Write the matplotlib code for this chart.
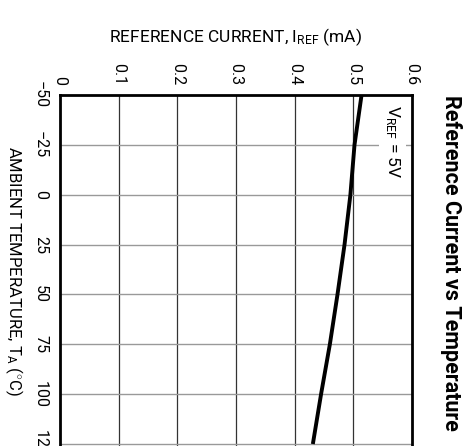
import matplotlib
matplotlib.use("Agg")
import matplotlib.pyplot as plt

temps = [-50, -25, 0, 25, 50, 75, 100, 125]
iref = [0.514, 0.502, 0.495, 0.485, 0.473, 0.460, 0.445, 0.431]
cur_ticks = [0, 0.1, 0.2, 0.3, 0.4, 0.5, 0.6]
cur_labels = ["0", "0.1", "0.2", "0.3", "0.4", "0.5", "0.6"]
temp_ticks = [-50, -25, 0, 25, 50, 75, 100, 125]
temp_labels = ["\u221250", "\u221225", "0", "25", "50", "75", "100", "125"]

FONT = ["Roboto", "DejaVu Sans"]
plt.rcParams["font.family"] = FONT
plt.rcParams["mathtext.fontset"] = "custom"
plt.rcParams["mathtext.rm"] = "Roboto"
plt.rcParams["mathtext.it"] = "Roboto"

W, H = 473, 446
fig = plt.figure(figsize=(W / 100, H / 100), dpi=100)
left, right, top, bottom = 60, 412, 95, 446
ax = fig.add_axes([left / W, 1 - bottom / H, (right - left) / W, (bottom - top) / H])

ax.set_xlim(0, 0.6)
ax.set_ylim(126, -50)

# grid
for c in cur_ticks[1:-1]:
    ax.axvline(c, color="#333333", lw=0.9, zorder=1)
for t in temp_ticks[1:]:
    ax.axhline(t, color="#999999", lw=1.0, zorder=1)

ax.plot(iref, temps, color="black", lw=2.8, zorder=3, solid_capstyle="butt")

ax.xaxis.tick_top()
ax.set_xticks(cur_ticks)
ax.set_xticklabels(cur_labels, rotation=-90, fontsize=11.5)
ax.set_yticks(temp_ticks)
ax.set_yticklabels(temp_labels, rotation=-90, fontsize=11.5, va="center", ha="center")
ax.tick_params(axis="x", length=0, pad=7)
ax.tick_params(axis="y", length=0, pad=14)

for s in ["top", "left", "right"]:
    ax.spines[s].set_linewidth(2.0)
ax.spines["bottom"].set_visible(False)

fig.text(236 / W, 1 - 37 / H, r"REFERENCE CURRENT, I$_{\mathregular{REF}}$ (mA)",
         ha="center", va="center", fontsize=12.5)
fig.text(14 / W, 1 - 271 / H, r"AMBIENT TEMPERATURE, T$_{\mathregular{A}}$ ($^{\circ}$C)",
         ha="center", va="center", rotation=-90, fontsize=12)

ax.text(0.567, -45, r"V$_{\mathregular{REF}}$ = 5V", rotation=-90, rotation_mode="anchor",
        ha="left", va="center", fontsize=12.5, zorder=4,
        bbox=dict(facecolor="white", edgecolor="none", pad=3))

fig.text(451 / W, 1 - 95 / H, "Reference Current vs Temperature", rotation=-90,
         rotation_mode="anchor", ha="left", va="center", fontsize=15.5, fontweight="bold")

fig.savefig("out.png", dpi=100)
